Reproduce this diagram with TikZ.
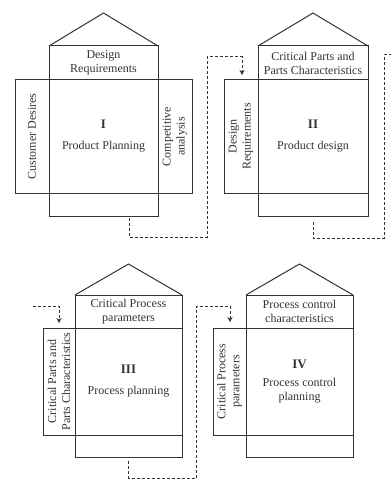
\documentclass[tikz,border=0pt]{standalone}
\usepackage{fontspec}
\setmainfont{Liberation Serif}
\usetikzlibrary{arrows.meta}
\tikzset{
  box/.style={draw=black!80, line width=1pt, inner sep=0pt, outer sep=0pt, align=center, font=\fontsize{12}{14}\selectfont, text=black!80},
  roof/.style={draw=black!80, line width=1pt},
  conn/.style={draw=black!80, line width=1pt, dash pattern=on 3pt off 2pt},
  tip/.style={-{Stealth[length=5pt,width=5pt]}}
}
\newcommand{\numeral}[1]{{\fontsize{13}{14}\selectfont\bfseries #1}}
\begin{document}
\begin{tikzpicture}[x=1pt,y=-1pt]
\useasboundingbox (0,0) rectangle (391,489);
% ---------- House I ----------
\node[box, minimum width=109pt, minimum height=34pt] (h1) at (103.5,63) {Design\\Requirements};
\node[box, minimum width=109pt, minimum height=113pt] (m1) at (103.5,136.5) {\numeral{I}\\[7pt]Product Planning};
\node[box, minimum width=109pt, minimum height=23pt] (b1) at (103.5,204.5) {};
\node[box, minimum width=113pt, minimum height=34pt, rotate=90] (l1) at (32,136.5) {Customer Desires};
\node[box, minimum width=113pt, minimum height=34pt, rotate=90] (rt1) at (175,136.5) {Competitive\\analysis};
\coordinate (r1) at (103.5,13);
\draw[roof] (h1.north west) -- (r1) -- (h1.north east);
% ---------- House II ----------
\node[box, minimum width=110pt, minimum height=34pt] (h2) at (313,63) {Critical Parts and\\Parts Characteristics};
\node[box, minimum width=110pt, minimum height=113pt] (m2) at (313,136.5) {\numeral{II}\\[7pt]Product design};
\node[box, minimum width=110pt, minimum height=23pt] (b2) at (313,204.5) {};
\node[box, minimum width=113pt, minimum height=34pt, rotate=90] (l2) at (241,136.5) {Design\\Requirements};
\coordinate (r2) at (313,13);
\draw[roof] (h2.north west) -- (r2) -- (h2.north east);
% ---------- House III ----------
\node[box, minimum width=107pt, minimum height=33pt] (h3) at (128.5,311.5) {Critical Process\\parameters};
\node[box, minimum width=107pt, minimum height=107pt] (m3) at (128.5,381.5) {\numeral{III}\\[7pt]Process planning};
\node[box, minimum width=107pt, minimum height=22pt] (b3) at (128.5,446) {};
\node[box, minimum width=107pt, minimum height=32pt, rotate=90] (l3) at (59,381.5) {Critical Parts and\\Parts Characteristics};
\coordinate (r3) at (128.5,264);
\draw[roof] (h3.north west) -- (r3) -- (h3.north east);
% ---------- House IV ----------
\node[box, minimum width=107pt, minimum height=33pt] (h4) at (299.5,311.5) {Process control\\characteristics};
\node[box, minimum width=107pt, minimum height=107pt] (m4) at (299.5,381.5) {\numeral{IV}\\[4pt]Process control\\planning};
\node[box, minimum width=107pt, minimum height=22pt] (b4) at (299.5,446) {};
\node[box, minimum width=107pt, minimum height=33pt, rotate=90] (l4) at (229.5,381.5) {Critical Process\\parameters};
\coordinate (r4) at (299.5,264);
\draw[roof] (h4.north west) -- (r4) -- (h4.north east);
% ---------- connectors ----------
\coordinate (s1) at (129,218);
\coordinate (k1) at (207,57);
\coordinate (t1) at (242,75);
\draw[conn, tip] (s1) -- ++(0,19) -| (k1) -| (t1);
\coordinate (s2) at (313,222);
\coordinate (k2) at (384,55);
\coordinate (e2) at (391,55);
\draw[conn] (s2) -- ++(0,16) -| (k2) -- (e2);
\coordinate (e3) at (33,306);
\coordinate (t3) at (59,323);
\draw[conn, tip] (e3) -| (t3);
\coordinate (s4) at (128.5,461);
\coordinate (k4) at (196,306);
\coordinate (t4) at (230,322);
\draw[conn, tip] (s4) -- ++(0,17) -| (k4) -| (t4);
\end{tikzpicture}
\end{document}
